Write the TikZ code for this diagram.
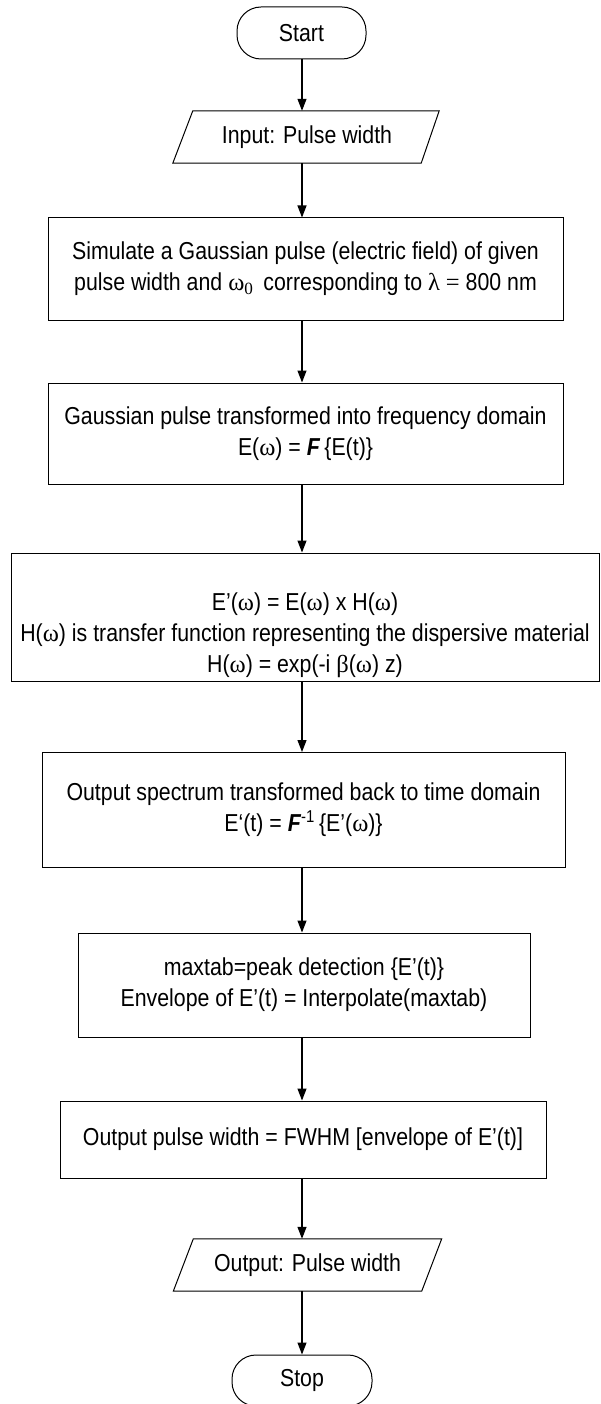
\documentclass[tikz,border=0pt]{standalone}
\usepackage{fontspec}
\setmainfont{Liberation Sans}[FakeStretch=0.87]
\newfontfamily\gkfont{Liberation Serif}
\usetikzlibrary{arrows.meta}
\newcommand{\gom}{{\gkfont ω}}
\newcommand{\gbe}{{\gkfont β}}
\newcommand{\gla}{{\gkfont λ}}
\newcommand{\boldF}{\textbf{\textit{F}}}
\begin{document}
\begin{tikzpicture}[x=1pt,y=-1pt,
  every node/.style={font=\fontsize{24.5}{31}\selectfont},
  box/.style={draw, line width=1pt, rectangle, inner sep=0pt, align=center},
  term/.style={draw, line width=1pt, rectangle, rounded corners=24pt, inner sep=0pt, align=center},
  io/.style={rectangle, inner sep=0pt, align=center, minimum width=248pt, minimum height=52pt},
  txt/.style={inner sep=0pt, align=center},
  arr/.style={-{Triangle[width=9pt,length=12pt]}, line width=1.2pt},
  pgram/.style={line width=1pt}
]
\fill[white] (0,0) rectangle (600,1404);
\useasboundingbox (0,0) rectangle (600,1404);
\coordinate (axis) at (302,0);

\node[term, minimum width=129pt, minimum height=52pt] (start) at (301.5,33) {Start};

\node[io] (in) at (307,137) {Input: Pulse width};
\draw[pgram] ([xshift=-10pt]in.south west) -- ([xshift=10pt]in.north west) -- ([xshift=8pt]in.north east) -- ([xshift=-10pt]in.south east) -- cycle;

\node[box, minimum width=515pt, minimum height=102pt] (b1) at (305.5,269)
  {Simulate a Gaussian pulse (electric field) of given\\
   pulse width and \gom\textsubscript{\gkfont 0}\, corresponding to \gla\ {\gkfont =} 800 nm};

\node[box, minimum width=515pt, minimum height=101pt] (b2) at (305.5,433.5)
  {Gaussian pulse transformed into frequency domain\\
   E(\gom) = \boldF\,\{E(t)\}};

\node[box, minimum width=588pt, minimum height=128pt] (b3) at (305,617) {};
\node[txt] (t3) at (305,635)
  {E’(\gom) = E(\gom) x H(\gom)\\
   H(\gom) is transfer function representing the dispersive material\\
   H(\gom) = exp(-i \gbe(\gom) z)};

\node[box, minimum width=523pt, minimum height=115pt] (b4) at (303.5,810)
  {Output spectrum transformed back to time domain\\
   E‘(t) = \boldF\textsuperscript{-1}\,\{E’(\gom)\}};

\node[box, minimum width=452pt, minimum height=104pt] (b5) at (304,985)
  {maxtab=peak detection \{E’(t)\}\\
   Envelope of E’(t) = Interpolate(maxtab)};

\node[box, minimum width=486pt, minimum height=77pt] (b6) at (303,1139.5)
  {Output pulse width = FWHM [envelope of E’(t)]};

\node[io] (out) at (307.5,1265) {Output: Pulse width};
\draw[pgram] ([xshift=-10pt]out.south west) -- ([xshift=10pt]out.north west) -- ([xshift=10pt]out.north east) -- ([xshift=-10pt]out.south east) -- cycle;

\node[term, minimum width=140pt, minimum height=51pt] (stop) at (302,1380.5) {Stop};

\draw[arr] (start.south -| axis) -- (in.north -| axis);
\draw[arr] (in.south -| axis) -- (b1.north -| axis);
\draw[arr] (b1.south -| axis) -- (b2.north -| axis);
\draw[arr] (b2.south -| axis) -- (b3.north -| axis);
\draw[arr] (b3.south -| axis) -- (b4.north -| axis);
\draw[arr] (b4.south -| axis) -- (b5.north -| axis);
\draw[arr] (b5.south -| axis) -- (b6.north -| axis);
\draw[arr] (b6.south -| axis) -- (out.north -| axis);
\draw[arr] (out.south -| axis) -- (stop.north -| axis);
\end{tikzpicture}
\end{document}
